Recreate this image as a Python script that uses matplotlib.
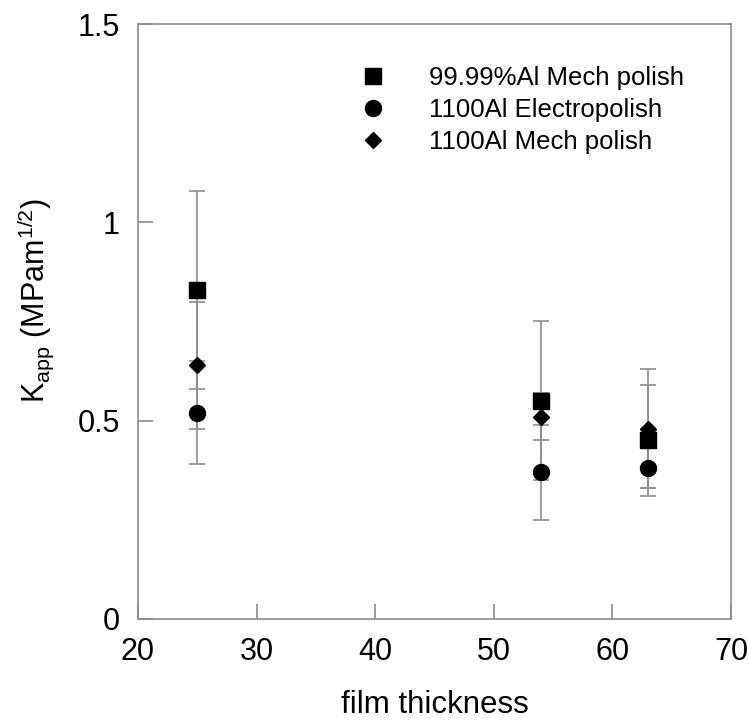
import matplotlib.pyplot as plt

plt.rcParams['font.family'] = ['Liberation Sans', 'DejaVu Sans']
plt.rcParams['mathtext.fontset'] = 'custom'
plt.rcParams['mathtext.rm'] = 'Liberation Sans'

# film thickness groups
thickness = [25, 54, 63]

# 99.99%Al mechanically polished
k_hp_mech = [0.83, 0.55, 0.45]
err_hp_mech = [0.25, 0.20, 0.14]

# 1100Al electropolished
k_1100_elec = [0.52, 0.37, 0.38]
err_1100_elec = [0.13, 0.12, 0.05]

# 1100Al mechanically polished
k_1100_mech = [0.64, 0.51, 0.48]
err_1100_mech = [0.16, 0.06, 0.15]

labels = ['99.99%Al Mech polish', '1100Al Electropolish', '1100Al Mech polish']

GREY = '#8c8c8c'

fig = plt.figure(figsize=(7.49, 7.21), dpi=100)
ax = fig.add_axes([0.1842, 0.1415, 0.7917, 0.8252])

series = [
    (k_hp_mech, err_hp_mech, 's', 12),
    (k_1100_elec, err_1100_elec, 'o', 11.5),
    (k_1100_mech, err_1100_mech, 'D', 8.5),
]

for (vals, errs, mk, ms), lab in zip(series, labels):
    ax.errorbar(thickness, vals, yerr=errs, fmt='none', ecolor=GREY,
                elinewidth=1.2, capsize=6, capthick=1.2, zorder=2)
    ax.plot(thickness, vals, linestyle='none', marker=mk, markersize=ms,
            color='black', label=lab, zorder=3)

ax.set_xlim(20, 70)
ax.set_ylim(0, 1.5)
ax.set_xticks([20, 30, 40, 50, 60, 70])
ax.set_yticks([0, 0.5, 1, 1.5])
ax.set_yticklabels(['0', '0.5', '1', '1.5'])

for side in ax.spines:
    ax.spines[side].set_color(GREY)
    ax.spines[side].set_linewidth(1.2)

ax.tick_params(direction='in', length=11, width=1.2, color=GREY,
               labelsize=22, pad=13)

ax.set_xlabel('film thickness', fontsize=22.5, labelpad=16.5)
ax.set_ylabel(r'K$_{\mathregular{app}}$ (MPam$^{\mathregular{1/2}}$)',
              fontsize=22)
ax.yaxis.set_label_coords(-0.139, 0.536)

ax.legend(loc='upper left', bbox_to_anchor=(0.374, 0.93), frameon=False,
          fontsize=18.5, handletextpad=1.7, labelspacing=0.32,
          handlelength=1.0, borderpad=0, borderaxespad=0)

fig.savefig('out.png', dpi=100, facecolor='white')
